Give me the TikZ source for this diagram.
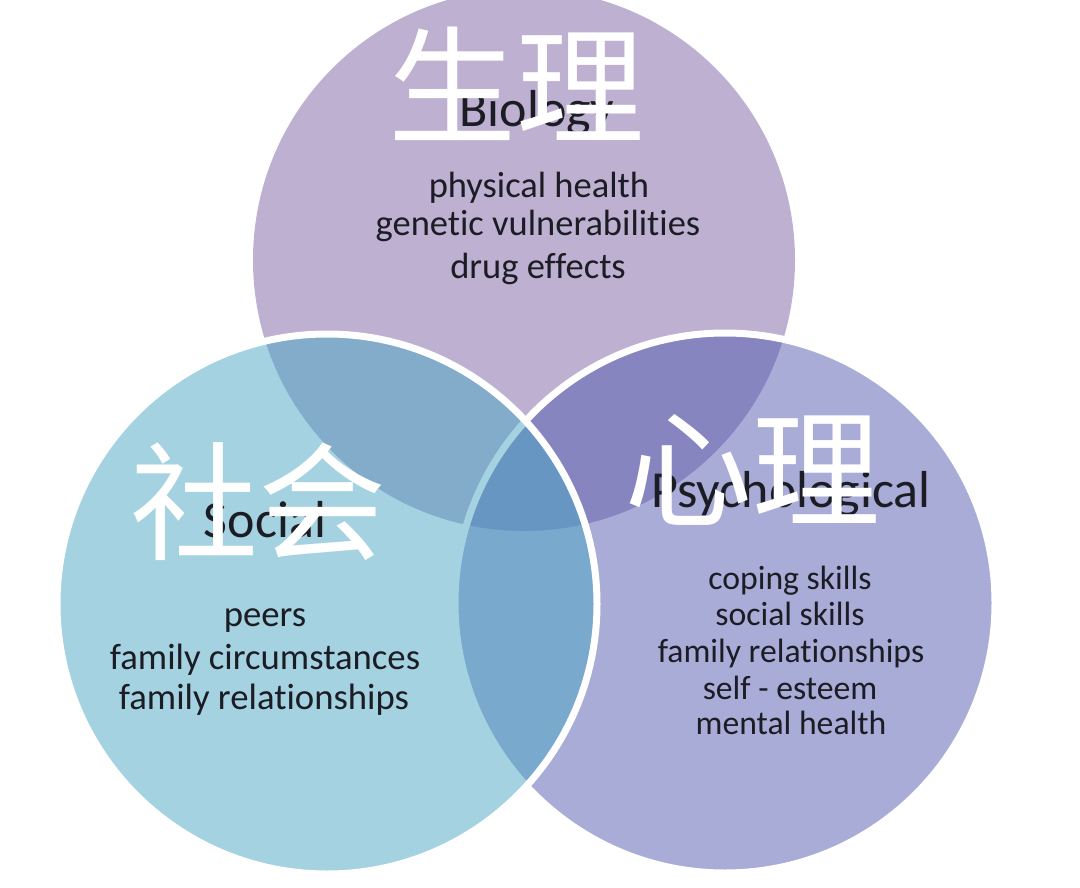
\documentclass[tikz,border=0pt]{standalone}
\usepackage{fontspec}
\setmainfont{Carlito}[Ligatures=NoCommon]
\newfontfamily\cjk{Noto Sans CJK SC}
\definecolor{bioC}{RGB}{189,176,209}
\definecolor{socC}{RGB}{75,167,197}
\definecolor{psyC}{RGB}{83,91,177}
\definecolor{txt}{RGB}{28,28,36}
\tikzset{
  ring/.style={circle, inner sep=0pt, outer sep=0pt, minimum size=540pt},
  head/.style={anchor=base, text=txt, inner sep=0pt, font=\fontsize{52}{60}\selectfont},
  bioitem/.style={anchor=base, text=txt, inner sep=0pt, font=\fontsize{36.5}{40}\selectfont},
  socitem/.style={anchor=base, text=txt, inner sep=0pt, font=\fontsize{36.7}{40}\selectfont},
  psyitem/.style={anchor=base, text=txt, inner sep=0pt, font=\fontsize{33.7}{36}\selectfont},
  zh/.style={anchor=center, text=white, inner sep=0pt, font=\cjk\fontsize{128}{140}\selectfont}
}
\begin{document}
\begin{tikzpicture}[x=1pt,y=-1pt]
\fill[white] (0,0) rectangle (1080,888);
\useasboundingbox (0,0) rectangle (1080,888);
% circles
\node[ring, minimum size=542pt, fill=bioC] (bio) at (524,260) {};
\node[ring, fill=psyC, fill opacity=0.5, draw=white, line width=7pt] (psy) at (725,603) {};
\node[ring, fill=socC, fill opacity=0.5, draw=white, line width=7pt] (soc) at (327,604) {};
% Biology
\node[head] (bioh) at (537,127) {Biology};
\node[bioitem] (b1) at (539,197) {physical health};
\node[bioitem] (b2) at (538,236) {genetic vulnerabilities};
\node[bioitem] (b3) at (538,278) {drug effects};
% Social
\node[head] (soch) at (265,537) {Social};
\node[socitem] (s1) at (265,626) {peers};
\node[socitem] (s2) at (265,669) {family circumstances};
\node[socitem] (s3) at (264,709) {family relationships};
% Psychological
\node[head] (psyh) at (791,507) {Psychological};
\node[psyitem] (p1) at (790,589) {coping skills};
\node[psyitem] (p2) at (790,625) {social skills};
\node[psyitem] (p3) at (791,662) {family relationships};
\node[psyitem] (p4) at (790,699) {self - esteem};
\node[psyitem] (p5) at (791,734) {mental health};
% Chinese overlay
\node[zh] (zh1) at (516,84) {生理};
\node[zh] (zh2) at (258,502) {社会};
\node[zh] (zh3) at (752,470) {心理};
\end{tikzpicture}
\end{document}
